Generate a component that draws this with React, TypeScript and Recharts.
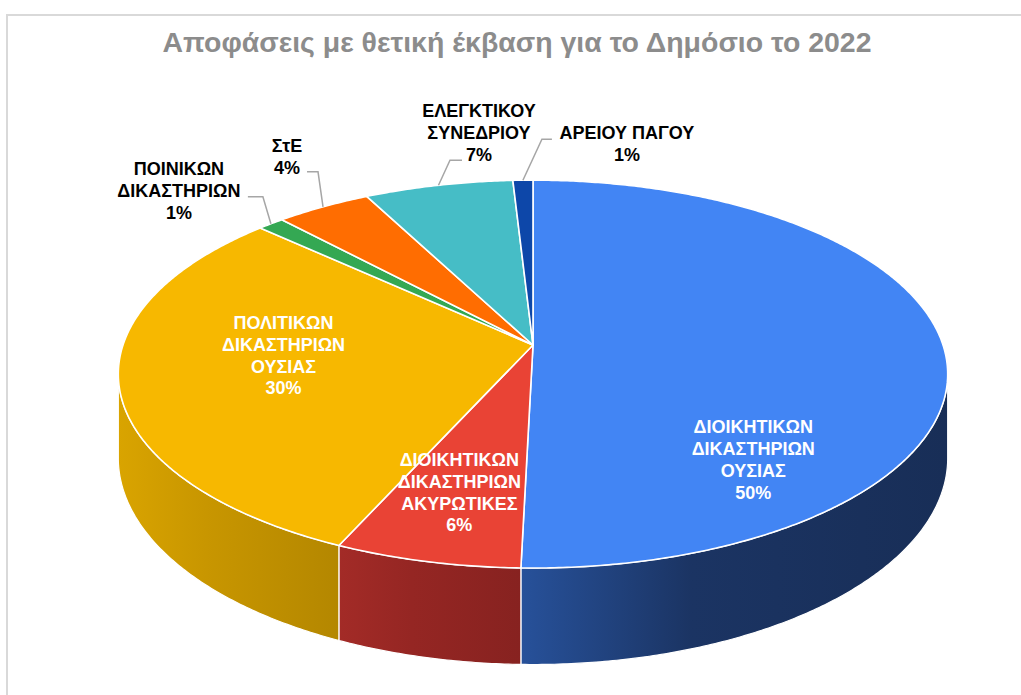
import React from 'react';
import { PieChart, Pie, Cell } from 'recharts';

// ---------- data ----------
const TITLE = 'Αποφάσεις με θετική έκβαση για το Δημόσιο το 2022';
const CATEGORIES = [
  'ΔΙΟΙΚΗΤΙΚΩΝ\nΔΙΚΑΣΤΗΡΙΩΝ\nΟΥΣΙΑΣ',
  'ΔΙΟΙΚΗΤΙΚΩΝ\nΔΙΚΑΣΤΗΡΙΩΝ\nΑΚΥΡΩΤΙΚΕΣ',
  'ΠΟΛΙΤΙΚΩΝ\nΔΙΚΑΣΤΗΡΙΩΝ\nΟΥΣΙΑΣ',
  'ΠΟΙΝΙΚΩΝ\nΔΙΚΑΣΤΗΡΙΩΝ',
  'ΣτΕ',
  'ΕΛΕΓΚΤΙΚΟΥ\nΣΥΝΕΔΡΙΟΥ',
  'ΑΡΕΙΟΥ ΠΑΓΟΥ',
];
const SHARES = [50.4, 6.3, 30.2, 1.2, 4.3, 6.7, 0.9];

// ---------- styles ----------
const TOP_COLORS = ['#4285f4', '#e94335', '#f7b800', '#34a853', '#ff6d01', '#46bdc6', '#0d47a9'];
const WALL_COLORS = [
  ['#27519a', '#1b3463', '#182e57'],
  ['#a32b27', '#952623', '#872220'],
  ['#d9a400', '#c89600', '#b48700'],
  ['#247a3a', '#20702f', '#1c6429'],
  ['#c05200', '#b04a00', '#a04300'],
  ['#33939a', '#2e878d', '#297a80'],
  ['#0a3680', '#093070', '#082a62'],
];
const LABEL_LAYOUT: any[] = [
  { f: 0.6, dx: -26, dy: 113.6, color: '#ffffff' },
  { f: 0.6, dx: -14, dy: 26, color: '#ffffff' },
  { f: 0.6, dx: -4, dy: -12.5, color: '#ffffff' },
  { f: 1, dx: -92, dy: -32.5, color: '#000000', elbow: [-8, -27], end: [-23, -27] },
  { f: 1, dx: -36, dy: -49.5, color: '#000000', elbow: [-5, -35], end: [-16, -35] },
  { f: 1, dx: 40.5, dy: -52.5, color: '#000000', elbow: [11.5, -25], end: [23.5, -25] },
  { f: 1, dx: 104, dy: -36, color: '#000000', elbow: [19, -41], end: [29, -41] },
];

const data = CATEGORIES.map((name, i) => ({ name, value: SHARES[i] }));

// ---------- 3D projection helpers ----------
const K = 0.4624; // vertical squash
const P = 0.15; // perspective
const DEPTH = 82;
const TV0 = (Math.acos(-P) * 180) / Math.PI;
const TV1 = 360 - TV0;
const rad = (d: number) => (d * Math.PI) / 180;

function proj(cx: number, cy: number, R: number, tDeg: number, f: number, down: boolean) {
  const t = rad(tDeg);
  const s = 1 / (1 + P * f * Math.cos(t));
  return [cx + R * f * Math.sin(t) * s, cy - R * K * f * Math.cos(t) * s + (down ? DEPTH * s : 0)];
}

function rim(cx: number, cy: number, R: number, a: number, b: number, down: boolean) {
  const n = Math.max(2, Math.ceil((b - a) / 0.5) + 1);
  const pts: number[][] = [];
  for (let i = 0; i < n; i++) {
    const t = a + ((b - a) * i) / (n - 1);
    pts.push(proj(cx, cy, R, t, 1, down));
  }
  return pts;
}

const fmt = (p: number[]) => `${p[0].toFixed(2)},${p[1].toFixed(2)}`;

const renderSlice = (props: any) => {
  const { cx, cy, outerRadius, startAngle, endAngle, fill } = props;
  let idx = TOP_COLORS.indexOf(fill);
  if (idx < 0) idx = 0;
  const t0 = 90 - startAngle;
  const t1 = 90 - endAngle;
  const lo = Math.min(t0, t1);
  const hi = Math.max(t0, t1);
  const top = rim(cx, cy, outerRadius, lo, hi, false);
  const dTop = `M${cx},${cy} L` + top.map(fmt).join(' L') + ' Z';
  const a = Math.max(lo, TV0);
  const b = Math.min(hi, TV1);
  let wall: any = null;
  if (b > a) {
    const up = rim(cx, cy, outerRadius, a, b, false);
    const dn = rim(cx, cy, outerRadius, a, b, true).reverse();
    const d = 'M' + [...up, ...dn].map(fmt).join(' L') + ' Z';
    const gid = `wallgrad-${idx}`;
    const wc = WALL_COLORS[idx];
    wall = (
      <g>
        <defs>
          <linearGradient id={gid} x1="0" y1="0" x2="1" y2="0">
            <stop offset="0%" stopColor={wc[0]} />
            <stop offset="40%" stopColor={wc[1]} />
            <stop offset="100%" stopColor={wc[2]} />
          </linearGradient>
        </defs>
        <path d={d} fill={`url(#${gid})`} stroke="#ffffff" strokeWidth={1.2} strokeLinejoin="round" />
      </g>
    );
  }
  return (
    <g>
      {wall}
      <path d={dTop} fill={fill} stroke="#ffffff" strokeWidth={1.6} strokeLinejoin="round" />
    </g>
  );
};

const LH = 21.8;

const renderLabel = (props: any) => {
  const { cx, cy, outerRadius, midAngle, percent, index } = props;
  const lay = LABEL_LAYOUT[index];
  if (!lay) return null;
  const t = 90 - midAngle;
  const anchor = proj(cx, cy, outerRadius, t, lay.f, false);
  const bx = anchor[0] + lay.dx;
  const by = anchor[1] + lay.dy;
  const lines = [...CATEGORIES[index].split('\n'), `${Math.round(percent * 100)}%`];
  const n = lines.length;
  return (
    <g>
      {lay.elbow && (
        <polyline
          points={[
            anchor,
            [anchor[0] + lay.elbow[0], anchor[1] + lay.elbow[1]],
            [anchor[0] + lay.end[0], anchor[1] + lay.end[1]],
          ]
            .map(fmt)
            .join(' ')}
          fill="none"
          stroke="#a6a6a6"
          strokeWidth={1.5}
        />
      )}
      <text
        textAnchor="middle"
        fill={lay.color}
        fontFamily="'Liberation Sans', Arial, sans-serif"
        fontWeight="bold"
        fontSize={18}
      >
        {lines.map((ln, i) => (
          <tspan key={i} x={bx} y={by + (i - (n - 1) / 2) * LH} dominantBaseline="central">
            {ln}
          </tspan>
        ))}
      </text>
    </g>
  );
};

export default function App() {
  return (
    <div
      style={{
        position: 'absolute',
        left: 0,
        top: 0,
        width: 1021,
        height: 695,
        overflow: 'hidden',
        background: '#ffffff',
      }}
    >
      <svg width={1021} height={695} style={{ position: 'absolute', left: 0, top: 0 }}>
        <rect x={7} y={15} width={1100} height={800} fill="#ffffff" stroke="#d9d9d9" strokeWidth={2} />
        <text
          x={517}
          y={42}
          textAnchor="middle"
          dominantBaseline="central"
          fill="#8c8c8c"
          fontFamily="'Liberation Sans', Arial, sans-serif"
          fontWeight="bold"
          fontSize={28}
          textLength={709}
          lengthAdjust="spacingAndGlyphs"
        >
          {TITLE}
        </text>
      </svg>
      <div style={{ position: 'absolute', left: 0, top: 0 }}>
        <PieChart width={1021} height={695}>
          <Pie
            data={data}
            dataKey="value"
            nameKey="name"
            cx={528}
            cy={340}
            outerRadius={410}
            startAngle={90}
            endAngle={-270}
            stroke="none"
            isAnimationActive={false}
            labelLine={false}
            label={renderLabel}
            shape={renderSlice}
            activeShape={renderSlice}
            inactiveShape={renderSlice}
          >
            {data.map((d, i) => (
              <Cell key={d.name} fill={TOP_COLORS[i]} />
            ))}
          </Pie>
        </PieChart>
      </div>
    </div>
  );
}
